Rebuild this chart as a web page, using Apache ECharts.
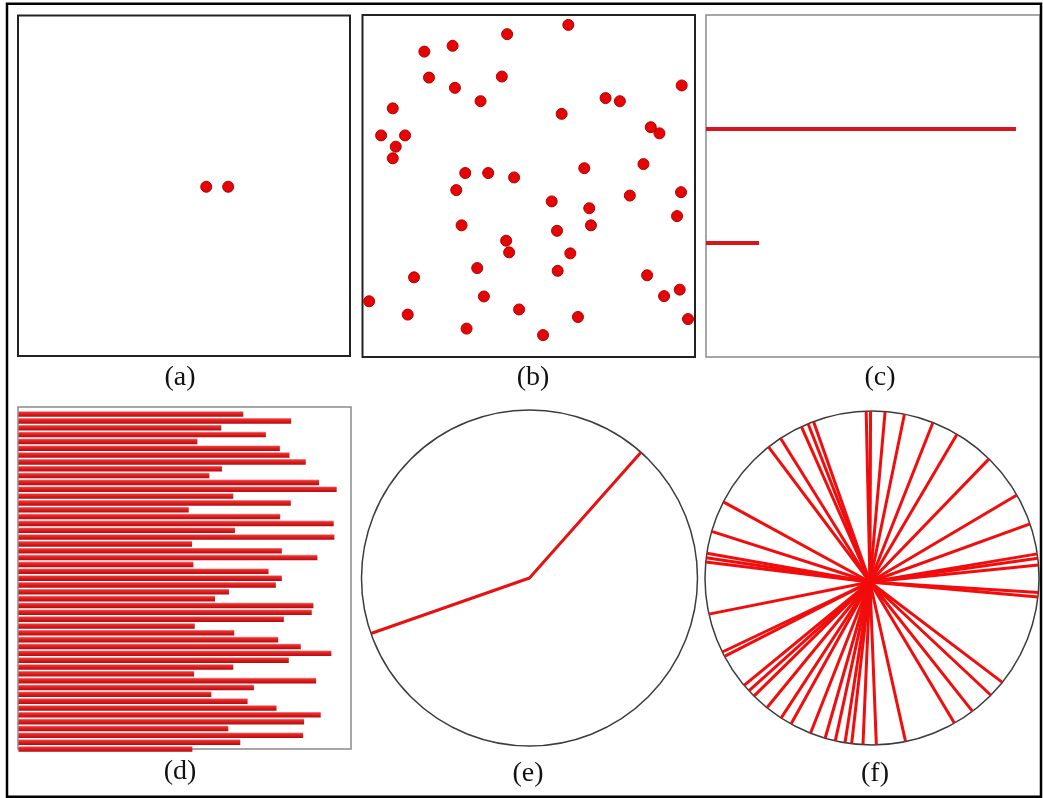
<!DOCTYPE html>
<html>
<head>
<meta charset="utf-8">
<script src="https://cdn.jsdelivr.net/npm/echarts@6/dist/echarts.min.js"></script>
<style>html,body{margin:0;padding:0;background:#fff;}#c{width:1043px;height:798px;}</style>
</head>
<body>
<div id="c"></div>
<script>
// ---- data ----
const panelLabels = ['(a)', '(b)', '(c)', '(d)', '(e)', '(f)'];
// (a) two points
const aX = [56.7, 63.3];
const aY = [49.7, 49.7];
// (b) scattered points
const bX = [61.9, 43.5, 18.6, 27.1, 20.0, 27.8, 41.9, 35.5, 96.0, 9.1, 73.1, 77.4, 59.9, 5.6, 12.8, 10.0, 9.1, 86.7, 89.3, 84.5,
            66.7, 30.9, 37.8, 45.6, 28.2, 95.8, 80.4, 56.9, 68.2, 94.6, 29.8, 68.7, 58.5, 43.2, 44.1, 62.5, 34.5, 58.7, 15.5, 85.6,
            95.4, 90.7, 2.0, 36.5, 47.1, 13.6, 64.8, 97.9, 31.3, 54.3];
const bY = [97.1, 94.4, 89.3, 91.0, 81.7, 78.7, 82.0, 74.8, 79.4, 72.7, 75.7, 74.8, 71.1, 64.8, 64.8, 61.5, 58.1, 67.2, 65.4, 56.4,
            55.2, 53.8, 53.8, 52.5, 48.8, 48.2, 47.2, 45.5, 43.5, 41.2, 38.5, 38.5, 36.9, 34.0, 30.6, 30.3, 26.0, 25.2, 23.3, 23.9,
            19.7, 17.8, 16.3, 17.7, 13.9, 12.4, 11.7, 11.1, 8.3, 6.4];
// (c) two horizontal segments
const cLengths = [92.8, 15.9];
const cLevels = [2, 1];
// (d) horizontal bars (top to bottom)
const dValues = [67.6, 82.0, 61.0, 74.4, 53.8, 78.6, 81.5, 86.4, 61.2, 57.4,
                 90.4, 95.7, 64.6, 81.9, 51.2, 78.7, 94.8, 65.1, 95.0, 52.2,
                 79.2, 89.9, 52.6, 75.2, 79.2, 77.4, 63.3, 59.1, 88.7, 88.2,
                 79.8, 53.0, 64.9, 78.1, 84.9, 94.1, 81.3, 64.6, 52.8, 89.5,
                 70.8, 58.0, 68.9, 77.6, 90.9, 85.9, 63.1, 85.6, 66.7, 52.3];
const dCategories = dValues.map((v, i) => String(i + 1));
// (e) two radii (degrees, counter-clockwise from +x)
const eAngles = [199.3, 48.4];
// (f) many chords from a hub
const fAngles = [90.5, 92, 85.5, 78.8, 68.6, 59.4, 45.5, 29.8, 18.9, 8.3, 6.8, 4.5, 355, 353.5,
                 321.3, 315.4, 307, 299.6, 281.6, 271.5, 266.9, 263, 260.7, 257.3, 253.7, 248.4,
                 241, 237, 231, 225, 222.5, 220, 208, 206.3, 192.5, 174.5, 173, 171.5, 163.8,
                 152.9, 128.3, 123.2, 115, 112.5, 110.5];
const fHub = [0.027, 243];

// ---- chart ----
const chart = echarts.init(document.getElementById('c'), null, {renderer: 'canvas'});
const hiddenAxis = (gi, extra) => Object.assign({gridIndex: gi, show: false, splitLine: {show: false}}, extra);

const series = [];
const dotStyle = {color: '#e60505', borderColor: '#b00000', borderWidth: 1, opacity: 1};
series.push({type: 'scatter', xAxisIndex: 0, yAxisIndex: 0, symbolSize: 11, itemStyle: dotStyle,
  data: aX.map((x, i) => [x, aY[i]])});
series.push({type: 'scatter', xAxisIndex: 1, yAxisIndex: 1, symbolSize: 11, itemStyle: dotStyle,
  data: bX.map((x, i) => [x, bY[i]])});
cLengths.forEach((len, i) => {
  series.push({type: 'line', xAxisIndex: 2, yAxisIndex: 2, symbol: 'none', clip: false,
    lineStyle: {color: '#d8141c', width: 4},
    data: [[0, cLevels[i]], [len, cLevels[i]]]});
});
series.push({type: 'bar', xAxisIndex: 4, yAxisIndex: 4, barWidth: 5.6,
  itemStyle: {color: new echarts.graphic.LinearGradient(0, 0, 0, 1, [
    {offset: 0, color: '#f5a0a0'}, {offset: 0.22, color: '#ea3030'},
    {offset: 0.6, color: '#d81818'}, {offset: 1, color: '#b10d14'}])},
  data: dValues});
series.push({type: 'line', coordinateSystem: 'polar', polarIndex: 0, symbol: 'none',
  lineStyle: {color: '#e81010', width: 3},
  data: [[1, eAngles[0]], [0, 0], [1, eAngles[1]]]});
fAngles.forEach(a => {
  series.push({type: 'line', coordinateSystem: 'polar', polarIndex: 1, symbol: 'none',
    lineStyle: {color: '#f20c0c', width: 3},
    data: [fHub, [1, a]]});
});

const labelPos = [[180, 378], [533, 378], [880, 378], [180, 772], [528, 774], [875, 774]];

const option = {
  animation: false,
  backgroundColor: '#fff',
  grid: [
    {left: 18, top: 15.5, width: 332, height: 340.5, show: true, borderColor: '#222', borderWidth: 2, backgroundColor: 'transparent'},
    {left: 362.5, top: 15, width: 332.5, height: 342, show: true, borderColor: '#222', borderWidth: 2, backgroundColor: 'transparent'},
    {left: 706, top: 15, width: 334, height: 342, show: true, borderColor: '#8a8a8a', borderWidth: 1.5, backgroundColor: 'transparent'},
    {left: 18, top: 407, width: 333, height: 342, show: true, borderColor: '#8a8a8a', borderWidth: 1.5, backgroundColor: 'transparent'},
    {left: 18.5, top: 410.6, width: 332.5, height: 341.8, show: false}
  ],
  xAxis: [
    hiddenAxis(0, {type: 'value', min: 0, max: 100}),
    hiddenAxis(1, {type: 'value', min: 0, max: 100}),
    hiddenAxis(2, {type: 'value', min: 0, max: 100}),
    hiddenAxis(3, {type: 'value', min: 0, max: 100}),
    hiddenAxis(4, {type: 'value', min: 0, max: 100})
  ],
  yAxis: [
    hiddenAxis(0, {type: 'value', min: 0, max: 100}),
    hiddenAxis(1, {type: 'value', min: 0, max: 100}),
    hiddenAxis(2, {type: 'value', min: 0, max: 3}),
    hiddenAxis(3, {type: 'value', min: 0, max: 100}),
    hiddenAxis(4, {type: 'category', data: dCategories, inverse: true})
  ],
  polar: [
    {center: [529.5, 578], radius: 168},
    {center: [872, 578], radius: 167}
  ],
  angleAxis: [0, 1].map(pi => ({
    polarIndex: pi, type: 'value', min: 0, max: 360, startAngle: 0, clockwise: false,
    axisLine: {show: true, lineStyle: {color: '#3c3c3c', width: 1.5}},
    axisTick: {show: false}, axisLabel: {show: false}, splitLine: {show: false}, splitArea: {show: false}
  })),
  radiusAxis: [0, 1].map(pi => ({
    polarIndex: pi, type: 'value', min: 0, max: 1, show: false,
    axisLine: {show: false}, axisTick: {show: false}, axisLabel: {show: false}, splitLine: {show: false}
  })),
  graphic: [
    {type: 'rect', silent: true, z: 100,
     shape: {x: 7, y: 3.7, width: 1034, height: 793},
     style: {fill: 'none', stroke: '#000', lineWidth: 2.5}}
  ].concat(panelLabels.map((t, i) => ({
    type: 'text', x: labelPos[i][0], y: labelPos[i][1], z: 100,
    style: {text: t, font: '28px "Liberation Serif", "DejaVu Serif", serif', fill: '#111',
            textAlign: 'center', textVerticalAlign: 'middle'}
  }))),
  series: series
};
chart.setOption(option);
</script>
</body>
</html>
